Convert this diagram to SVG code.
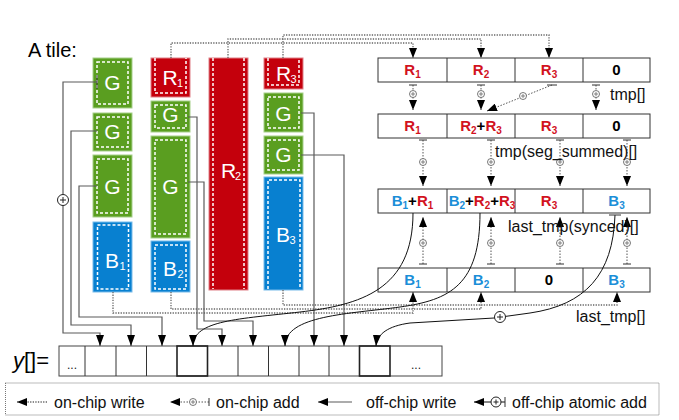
<svg xmlns="http://www.w3.org/2000/svg" width="679" height="420" viewBox="0 0 679 420">
<style>
text{font-family:"Liberation Sans",Arial,Helvetica,sans-serif}
.g{fill:#5a9e20;stroke:#a6d08a;stroke-width:1}
.r{fill:#c4000c;stroke:#e08088;stroke-width:1}
.b{fill:#0880d0;stroke:#78bbea;stroke-width:1}
.in{fill:none;stroke:#fff;stroke-width:1.5;stroke-dasharray:3 2}
.tl{font-size:21px;fill:#fff;text-anchor:middle}
.ts{font-size:11px;fill:#fff}
.cell{fill:#fff;stroke:#333;stroke-width:1}
.tt{font-size:15px;font-weight:bold;text-anchor:middle;fill:#000}
.red{fill:#d2121e}
.blu{fill:#1b8ed8}
.lbl{font-size:16px;fill:#111}
.ow{fill:none;stroke:#666;stroke-width:1.3;stroke-dasharray:1.3 1.3}
.oa{fill:none;stroke:#555;stroke-width:1;stroke-dasharray:1.5 1.5}
.bar{stroke:#333;stroke-width:1}
.fw{fill:none;stroke:#5a5a5a;stroke-width:1.2}
.cw{fill:none;stroke:#111;stroke-width:1}
.oc{fill:#fff;stroke:#555;stroke-width:0.8}
.op{stroke:#555;stroke-width:0.7}
.ac{fill:#fff;stroke:#222;stroke-width:1}
.ap{stroke:#222;stroke-width:1}
.arr{fill:#fff;stroke:#444;stroke-width:1}
.thick{fill:none;stroke:#222;stroke-width:1.6}
</style>
<defs>
<marker id="ah" markerUnits="userSpaceOnUse" markerWidth="11" markerHeight="8" refX="11" refY="4" orient="auto"><path d="M0,0L11,4L0,8z" fill="#000"/></marker>
<marker id="as" markerUnits="userSpaceOnUse" markerWidth="10" markerHeight="8" refX="10" refY="4" orient="auto"><path d="M0,0L10,4L0,8z" fill="#000"/></marker>
</defs>

<text x="28" y="57" font-size="20" fill="#000">A tile:</text>

<!-- column 1 -->
<g id="tile-c1-g1"><rect class="g" x="93" y="58" width="39" height="50"/><rect class="in" x="97" y="62" width="31" height="42"/><text class="tl" x="112.5" y="90">G</text></g>
<g id="tile-c1-g2"><rect class="g" x="93" y="113" width="39" height="38"/><rect class="in" x="97" y="117" width="31" height="30"/><text class="tl" x="112.5" y="139">G</text></g>
<g id="tile-c1-g3"><rect class="g" x="93" y="155" width="39" height="62"/><rect class="in" x="97" y="159" width="31" height="54"/><text class="tl" x="112.5" y="194">G</text></g>
<g id="tile-b1"><rect class="b" x="93" y="222" width="39" height="70"/><rect class="in" x="97.5" y="225" width="31" height="64"/><text class="tl" x="112" y="268">B</text><text class="ts" x="119.5" y="270">1</text></g>

<!-- column 2 -->
<g id="tile-r1"><rect class="r" x="151" y="58" width="39" height="39"/><path class="in" d="M155,58V93H186V58"/><text class="tl" x="170" y="85">R</text><text class="ts" x="177" y="87">1</text></g>
<g id="tile-c2-g1"><rect class="g" x="151" y="101" width="39" height="31"/><rect class="in" x="155" y="105" width="31" height="23"/><text class="tl" x="170.5" y="122">G</text></g>
<g id="tile-c2-g2"><rect class="g" x="151" y="136" width="39" height="102"/><rect class="in" x="155" y="140" width="31" height="94"/><text class="tl" x="170.5" y="194">G</text></g>
<g id="tile-b2"><rect class="b" x="151" y="241" width="39" height="51"/><rect class="in" x="155" y="245" width="31" height="44"/><text class="tl" x="170" y="276">B</text><text class="ts" x="177.5" y="278">2</text></g>

<!-- column 3 -->
<g id="tile-r2"><rect class="r" x="209" y="58" width="39" height="232"/><path class="in" d="M213,58V289M244,58V289"/><text class="tl" x="228.5" y="178">R</text><text class="ts" x="235" y="180">2</text></g>

<!-- column 4 -->
<g id="tile-r3"><rect class="r" x="264" y="58" width="39" height="31"/><path class="in" d="M268,58V85H299V58"/><text class="tl" x="283.5" y="81">R</text><text class="ts" x="290.5" y="83">3</text></g>
<g id="tile-c4-g1"><rect class="g" x="264" y="93" width="39" height="39"/><rect class="in" x="268" y="97" width="31" height="31"/><text class="tl" x="283.5" y="121">G</text></g>
<g id="tile-c4-g2"><rect class="g" x="264" y="136" width="39" height="38"/><rect class="in" x="268" y="140" width="31" height="30"/><text class="tl" x="283.5" y="162">G</text></g>
<g id="tile-b3"><rect class="b" x="264" y="177" width="39" height="113"/><path class="in" d="M268,289V180H300V289"/><text class="tl" x="283" y="242">B</text><text class="ts" x="289.5" y="244">3</text></g>

<!-- table rows -->
<g id="tmp">
<rect class="cell" x="378" y="58" width="272" height="24"/>
<path class="bar" d="M447,58V82M515,58V82M583,58V82"/>
<text class="tt red" x="412.5" y="75">R<tspan font-size="10" dy="3">1</tspan></text>
<text class="tt red" x="481" y="75">R<tspan font-size="10" dy="3">2</tspan></text>
<text class="tt red" x="549" y="75">R<tspan font-size="10" dy="3">3</tspan></text>
<text class="tt" x="616.5" y="75">0</text>
</g>
<g id="tmp-seg-summed">
<rect class="cell" x="378" y="114" width="272" height="24"/>
<path class="bar" d="M447,114V138M515,114V138M583,114V138"/>
<text class="tt red" x="412.5" y="131">R<tspan font-size="10" dy="3">1</tspan></text>
<text class="tt" x="481" y="131"><tspan class="red">R</tspan><tspan class="red" font-size="10" dy="3">2</tspan><tspan dy="-3">+</tspan><tspan class="red">R</tspan><tspan class="red" font-size="10" dy="3">3</tspan></text>
<text class="tt red" x="549" y="131">R<tspan font-size="10" dy="3">3</tspan></text>
<text class="tt" x="616.5" y="131">0</text>
</g>
<g id="last-tmp-synced">
<rect class="cell" x="378" y="189" width="272" height="24"/>
<path class="bar" d="M447,189V213M515,189V213M583,189V213"/>
<text class="tt" x="412.5" y="206"><tspan class="blu">B</tspan><tspan class="blu" font-size="10" dy="3">1</tspan><tspan dy="-3">+</tspan><tspan class="red">R</tspan><tspan class="red" font-size="10" dy="3">1</tspan></text>
<text class="tt" x="482" y="206"><tspan class="blu">B</tspan><tspan class="blu" font-size="10" dy="3">2</tspan><tspan dy="-3">+</tspan><tspan class="red">R</tspan><tspan class="red" font-size="10" dy="3">2</tspan><tspan dy="-3">+</tspan><tspan class="red">R</tspan><tspan class="red" font-size="10" dy="3">3</tspan></text>
<text class="tt red" x="549" y="206">R<tspan font-size="10" dy="3">3</tspan></text>
<text class="tt blu" x="616.5" y="206">B<tspan font-size="10" dy="3">3</tspan></text>
</g>
<g id="last-tmp">
<rect class="cell" x="378" y="268" width="272" height="24"/>
<path class="bar" d="M447,268V292M515,268V292M583,268V292"/>
<text class="tt blu" x="412.5" y="285">B<tspan font-size="10" dy="3">1</tspan></text>
<text class="tt blu" x="481" y="285">B<tspan font-size="10" dy="3">2</tspan></text>
<text class="tt" x="549" y="285">0</text>
<text class="tt blu" x="616.5" y="285">B<tspan font-size="10" dy="3">3</tspan></text>
</g>

<!-- y array -->
<g id="y-array">
<text x="13" y="368" font-size="22" fill="#000"><tspan font-style="italic">y</tspan>[]=</text>
<rect class="arr" x="59" y="346" width="383" height="30"/>
<path class="bar" d="M85,346V376M116,346V376M146.5,346V376M238,346V376M268.5,346V376M299,346V376M329,346V376"/>
<rect class="thick" x="177" y="346" width="30.5" height="30"/>
<rect class="thick" x="359.5" y="346" width="30.5" height="30"/>
<text x="72" y="369" font-size="12" text-anchor="middle" fill="#222">...</text>
<text x="416" y="369" font-size="12" text-anchor="middle" fill="#222">...</text>
</g>

<!-- connectors -->
<g id="connectors">
<!-- on-chip writes -->
<path class="ow" marker-end="url(#as)" d="M171,58V43H413V58"/>
<path class="ow" marker-end="url(#as)" d="M228,58V39H481V58"/>
<path class="ow" marker-end="url(#as)" d="M283,58V35H549V58"/>
<path class="ow" marker-end="url(#as)" d="M113,292V313H413V292"/>
<path class="ow" marker-end="url(#as)" d="M171,292V309H481V292"/>
<path class="ow" marker-end="url(#as)" d="M283,290V305H617V292"/>

<!-- on-chip adds row1 -> row2 -->
<path class="oa" marker-end="url(#as)" d="M413,85V110"/>
<path class="oa" marker-end="url(#as)" d="M481,85V110"/>
<path class="oa" marker-end="url(#as)" d="M596,85V110"/>
<path class="oa" marker-end="url(#as)" d="M552,85L487,111"/>
<path class="bar" d="M409,85H417M477,85H485M592,85H600M547,85H557"/>
<!-- row2 -> row3 -->
<path class="oa" marker-end="url(#as)" d="M423,140V186"/>
<path class="oa" marker-end="url(#as)" d="M491,140V186"/>
<path class="oa" marker-end="url(#as)" d="M560,140V186"/>
<path class="oa" marker-end="url(#as)" d="M627,140V186"/>
<path class="bar" d="M419,140H427M487,140H495M556,140H564M623,140H631"/>
<!-- row4 -> row3 -->
<path class="oa" marker-end="url(#as)" d="M423,264V217"/>
<path class="oa" marker-end="url(#as)" d="M491,264V217"/>
<path class="oa" marker-end="url(#as)" d="M560,264V217"/>
<path class="oa" marker-end="url(#as)" d="M627,264V217"/>
<path class="bar" d="M419,264H427M487,264H495M556,264H564M623,264H631"/>
<!-- small add circles -->
<g>
<circle class="oc" cx="413" cy="94" r="3.5"/><path class="op" d="M411,94h4M413,92v4"/>
<circle class="oc" cx="481" cy="94" r="3.5"/><path class="op" d="M479,94h4M481,92v4"/>
<circle class="oc" cx="596" cy="94" r="3.5"/><path class="op" d="M594,94h4M596,92v4"/>
<circle class="oc" cx="523" cy="96" r="3.5"/><path class="op" d="M521,96h4M523,94v4"/>
<circle class="oc" cx="423" cy="162" r="3.5"/><path class="op" d="M421,162h4M423,160v4"/>
<circle class="oc" cx="491" cy="162" r="3.5"/><path class="op" d="M489,162h4M491,160v4"/>
<circle class="oc" cx="560" cy="162" r="3.5"/><path class="op" d="M558,162h4M560,160v4"/>
<circle class="oc" cx="627" cy="162" r="3.5"/><path class="op" d="M625,162h4M627,160v4"/>
<circle class="oc" cx="423" cy="243" r="3.5"/><path class="op" d="M421,243h4M423,241v4"/>
<circle class="oc" cx="491" cy="243" r="3.5"/><path class="op" d="M489,243h4M491,241v4"/>
<circle class="oc" cx="560" cy="243" r="3.5"/><path class="op" d="M558,243h4M560,241v4"/>
<circle class="oc" cx="627" cy="243" r="3.5"/><path class="op" d="M625,243h4M627,241v4"/>
</g>

<!-- off-chip writes from tiles -->
<path class="fw" marker-end="url(#ah)" d="M97,82H63V333H100V346"/>
<path class="bar" d="M97,75V89"/>
<circle class="ac" cx="63" cy="200" r="5.5"/><path class="ap" d="M60,200h6M63,197v6"/>
<path class="fw" marker-end="url(#ah)" d="M97,131H71V325H131V346"/>
<path class="fw" marker-end="url(#ah)" d="M97,186H79V317H162V346"/>
<path class="fw" marker-end="url(#ah)" d="M188,117H197V329H222V346"/>
<path class="fw" marker-end="url(#ah)" d="M188,182H204V321H253V346"/>
<path class="fw" marker-end="url(#ah)" d="M301,113H314V346"/>
<path class="fw" marker-end="url(#ah)" d="M301,155H344V346"/>

<!-- curved off-chip writes from last_tmp(synced) -->
<path class="cw" marker-end="url(#ah)" d="M413,213C413,290 360,305 300,312S193,320 193,346"/>
<path class="cw" marker-end="url(#ah)" d="M480,213C480,285 450,300 400,307S285,315 285,346"/>
<path class="cw" marker-end="url(#ah)" d="M615,215C613,275 585,305 530,313L494,318L410,323C388,326 377,334 376,346"/>
<path class="bar" d="M609,215H621"/>
<circle class="ac" cx="500" cy="317" r="5.5"/><path class="ap" d="M497,317h6M500,314v6"/>
</g>

<!-- labels -->
<text class="lbl" x="610" y="100">tmp[]</text>
<text class="lbl" x="495" y="157">tmp(seg_summed)[]</text>
<text class="lbl" x="508" y="232">last_tmp(synced)[]</text>
<text class="lbl" x="576" y="322">last_tmp[]</text>

<!-- legend -->
<g id="legend">
<rect x="5.5" y="383" width="653.5" height="32" fill="none" stroke="#777" stroke-width="1" stroke-dasharray="1 1"/>
<path class="ow" marker-end="url(#as)" d="M47,402H17"/>
<text class="lbl" x="54" y="408">on-chip write</text>
<path class="oa" marker-end="url(#as)" d="M209,402H170"/>
<path class="bar" d="M209,398V406"/>
<circle class="oc" cx="193" cy="402" r="3.5"/><path class="op" d="M191,402h4M193,400v4"/>
<text class="lbl" x="216" y="408">on-chip add</text>
<path class="fw" stroke="#111" marker-end="url(#as)" d="M352,402H318"/>
<text class="lbl" x="366" y="408">off-chip write</text>
<path class="cw" marker-end="url(#as)" d="M505,402H474"/>
<path class="bar" d="M505,397V407"/>
<circle class="ac" cx="496" cy="402" r="5"/><path class="ap" d="M493.5,402h5M496,399.5v5"/>
<text class="lbl" x="512" y="408">off-chip atomic add</text>
</g>
</svg>
